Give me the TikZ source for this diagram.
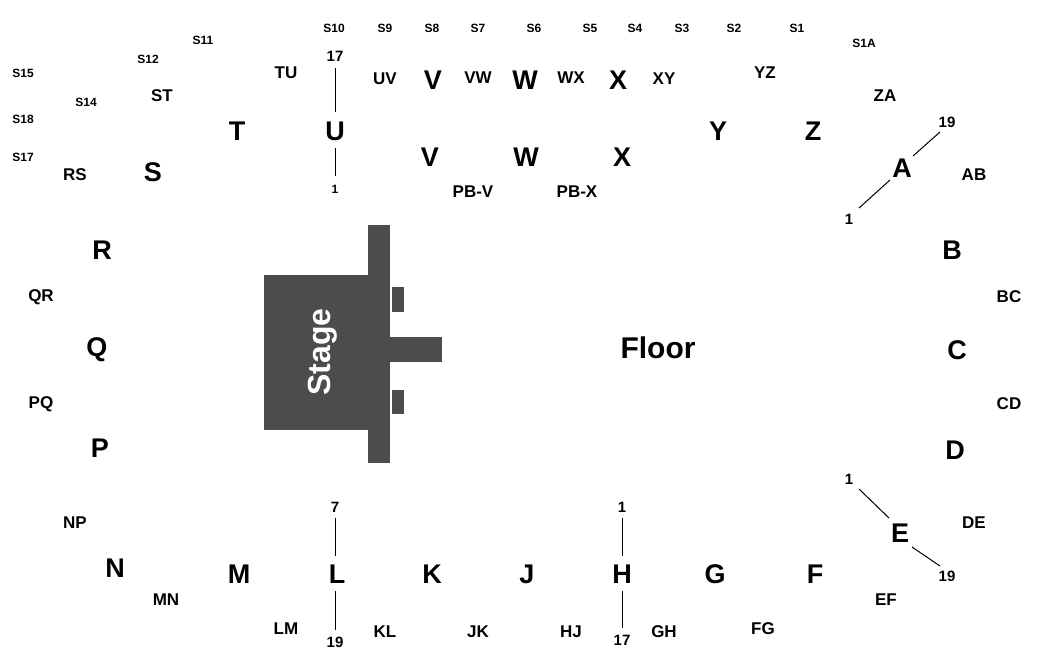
\documentclass[tikz,border=0pt]{standalone}
\usepackage{fontspec}
\setmainfont{Liberation Sans}
\tikzset{
  big/.style={font=\fontsize{27}{27}\selectfont\bfseries},
  mid/.style={font=\fontsize{17}{17}\selectfont\bfseries},
  sml/.style={font=\fontsize{12}{12}\selectfont\bfseries},
  rowline/.style={line width=1pt}
}
\begin{document}
\begin{tikzpicture}[x=1pt,y=-1pt]
\useasboundingbox (0,0) rectangle (1050,670);
% stage
\fill [black!70] (264,275) rectangle (368,430);
\fill [black!70] (368,225) rectangle (390,463);
\fill [black!70] (390,337) rectangle (442,362);
\fill [black!70] (392,287) rectangle (404,312);
\fill [black!70] (392,390) rectangle (404,414);
\node (stage) [rotate=90, text=white, font=\fontsize{32}{32}\selectfont\bfseries] at (323,352) {Stage};
\node (floor) [font=\fontsize{30}{30}\selectfont\bfseries] at (658,348) {Floor};
% big sections
\foreach \t/\x/\y in {T/237/131, U/335/131, V/433/80, W/525/80, X/618/80, V/430/157, W/526/157, X/622/157,
  Y/718/131, Z/813/131, A/902/168, B/952/250, C/957/350, D/955/450, E/900/533, F/815/574, G/715/574,
  H/622/574, J/527/574, K/432/574, L/337/574, M/239/574, N/115/568, P/100/448, Q/97/350, R/102/250, S/153/172}
  \node (sec\t\x) [big] at (\x,\y) {\t};
% in-between sections
\foreach \t/\x/\y in {TU/286/73, UV/385/79, VW/478/78, WX/571/78, XY/664/79, YZ/765/73, ZA/885/96, AB/974/175,
  BC/1009/297, CD/1009/404, DE/974/523, EF/886/600, FG/763/629, GH/664/632, HJ/571/632, JK/478/632, KL/385/632,
  LM/286/629, MN/166/600, NP/75/523, PQ/41/404, QR/41/297, RS/75/175, ST/162/96, PB-V/473/192, PB-X/577/192}
  \node (sec\t) [mid] at (\x,\y) {\t};
% upper level
\foreach \t/\x/\y in {S10/334/28, S9/385/28, S8/432/28, S7/478/28, S6/534/28, S5/590/28, S4/635/28, S3/682/28,
  S2/734/28, S1/797/28, S1A/864/43, S11/203/40, S12/148/59, S14/86/102, S15/23/73, S18/23/119, S17/23/157}
  \node (up\t) [sml] at (\x,\y) {\t};
% seat numbers and row lines
\node (u17) [mid, font=\fontsize{15}{15}\selectfont\bfseries] at (335,56) {17};
\node (u1) [sml] at (335,189) {1};
\draw [rowline] (335,68) -- (335,112) (335,148) -- (335,176);
\node (a19) [mid, font=\fontsize{15}{15}\selectfont\bfseries] at (947,122) {19};
\node (a1) [mid, font=\fontsize{15}{15}\selectfont\bfseries] at (849,219) {1};
\draw [rowline] (859,208) -- (890,180) (913,156) -- (940,132);
\node (e1) [mid, font=\fontsize{15}{15}\selectfont\bfseries] at (849,479) {1};
\node (e19) [mid, font=\fontsize{15}{15}\selectfont\bfseries] at (947,576) {19};
\draw [rowline] (859,489) -- (889,518) (912,547) -- (940,566);
\node (l7) [mid, font=\fontsize{15}{15}\selectfont\bfseries] at (335,507) {7};
\node (l19) [mid, font=\fontsize{15}{15}\selectfont\bfseries] at (335,642) {19};
\draw [rowline] (335,518) -- (335,556) (335,591) -- (335,630);
\node (h1) [mid, font=\fontsize{15}{15}\selectfont\bfseries] at (622,507) {1};
\node (h17) [mid, font=\fontsize{15}{15}\selectfont\bfseries] at (622,640) {17};
\draw [rowline] (622,518) -- (622,556) (622,591) -- (622,628);
\end{tikzpicture}
\end{document}
